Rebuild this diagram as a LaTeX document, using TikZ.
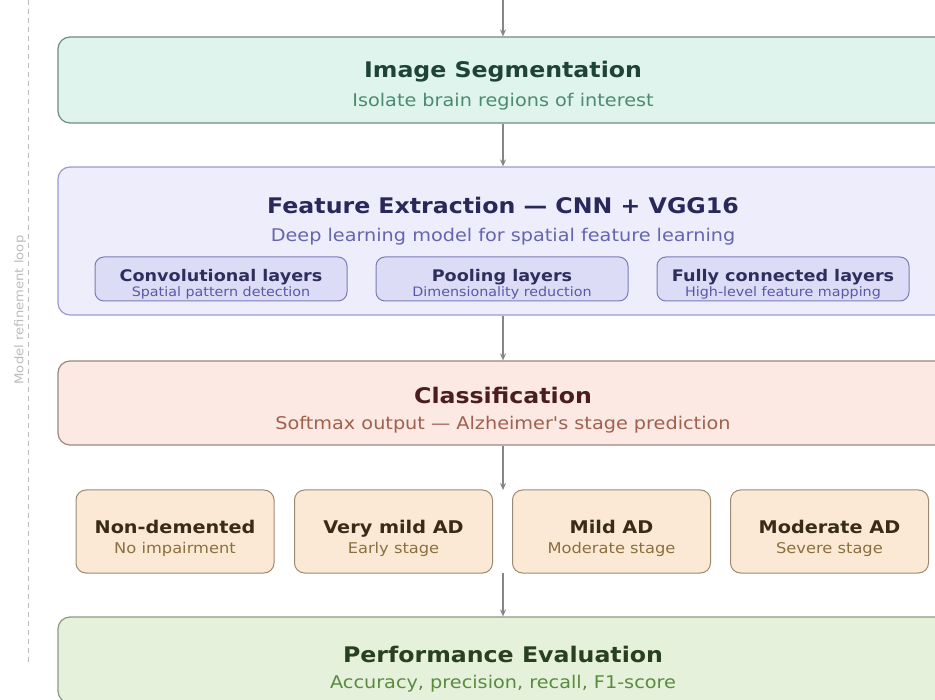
\documentclass[tikz,border=0pt]{standalone}
\usepackage{fontspec}
\setmainfont{DejaVu Sans}[FakeStretch=1.1, Ligatures=TeXOff]
\usetikzlibrary{arrows.meta}

% stage palettes
\definecolor{segfill}{HTML}{DFF4EC}
\definecolor{segline}{HTML}{6F8C82}
\definecolor{segtitle}{HTML}{1D4436}
\definecolor{segsub}{HTML}{4C8A72}
\definecolor{featfill}{HTML}{EDEDFB}
\definecolor{featline}{HTML}{9A9AD2}
\definecolor{feattitle}{HTML}{28285A}
\definecolor{featsub}{HTML}{6565B0}
\definecolor{layfill}{HTML}{DCDCF6}
\definecolor{layline}{HTML}{7C7CB4}
\definecolor{laytitle}{HTML}{2E2E5E}
\definecolor{laysub}{HTML}{5858A8}
\definecolor{clsfill}{HTML}{FCE9E3}
\definecolor{clsline}{HTML}{9C8680}
\definecolor{clstitle}{HTML}{4A1E1E}
\definecolor{clssub}{HTML}{A0604E}
\definecolor{adfill}{HTML}{FBE9D5}
\definecolor{adline}{HTML}{9C8A72}
\definecolor{adtitle}{HTML}{3A2A18}
\definecolor{adsub}{HTML}{8A7040}
\definecolor{evalfill}{HTML}{E5F1DA}
\definecolor{evalline}{HTML}{8A9A80}
\definecolor{evaltitle}{HTML}{284020}
\definecolor{evalsub}{HTML}{5A8A40}
\definecolor{flow}{HTML}{868686}
\definecolor{loopgray}{HTML}{BCBCBC}

\tikzset{
  stage/.style={rectangle, rounded corners=12pt, line width=1.2pt,
    minimum width=890pt, inner sep=0pt},
  layer/.style={rectangle, rounded corners=9pt, line width=1pt,
    fill=layfill, draw=layline, minimum width=252pt, minimum height=44pt, inner sep=0pt},
  adbox/.style={rectangle, rounded corners=10pt, line width=1pt,
    fill=adfill, draw=adline, minimum width=198pt, minimum height=83pt, inner sep=0pt},
  ttl/.style={anchor=base, inner sep=0pt, font=\fontsize{21.5}{25}\selectfont\bfseries},
  sub/.style={anchor=base, inner sep=0pt, font=\fontsize{17.5}{21}\selectfont},
  lttl/.style={anchor=base, inner sep=0pt, font=\fontsize{16}{19}\selectfont\bfseries, text=laytitle},
  lsub/.style={anchor=base, inner sep=0pt, font=\fontsize{13}{15}\selectfont, text=laysub},
  attl/.style={anchor=base, inner sep=0pt, font=\fontsize{17.5}{21}\selectfont\bfseries, text=adtitle},
  asub/.style={anchor=base, inner sep=0pt, font=\fontsize{14.8}{18}\selectfont, text=adsub},
  flowarrow/.style={draw=flow, line width=1.5pt, -{Stealth[length=7pt,width=6pt]}},
}

\begin{document}
\begin{tikzpicture}[x=1pt, y=-1pt]
\useasboundingbox (0,0) rectangle (935,700);
\clip (0,0) rectangle (935,700);
\fill[white] (0,0) rectangle (935,700);

% refinement loop guide on the left
\draw[loopgray, line width=1pt, dash pattern=on 5pt off 4pt] (28,0) -- (28,665);
\node[rotate=90, text=loopgray, font=\fontsize{12}{14}\selectfont, inner sep=0pt]
  (looplabel) at (20,310) {Model refinement loop};

% main stages
\node[stage, fill=segfill, draw=segline, minimum height=86pt] (seg) at (503,80) {};
\node[stage, fill=featfill, draw=featline, minimum height=148pt] (feat) at (503,241) {};
\node[stage, fill=clsfill, draw=clsline, minimum height=84pt] (cls) at (503,403) {};
\node[stage, fill=evalfill, draw=evalline, minimum height=86pt] (eval) at (503,660) {};

\node[ttl, text=segtitle] (segT) at (503,78) {Image Segmentation};
\node[sub, text=segsub] (segS) at (503,107) {Isolate brain regions of interest};

\node[ttl, text=feattitle] (featT) at (503,214) {Feature Extraction — CNN + VGG16};
\node[sub, text=featsub] (featS) at (503,242) {Deep learning model for spatial feature learning};

% CNN building blocks
\node[layer] (conv) at (221,279) {};
\node[layer] (pool) at (502,279) {};
\node[layer] (fc) at (783,279) {};
\node[lttl] (convT) at (221,282) {Convolutional layers};
\node[lsub] (convS) at (221,297) {Spatial pattern detection};
\node[lttl] (poolT) at (502,282) {Pooling layers};
\node[lsub] (poolS) at (502,297) {Dimensionality reduction};
\node[lttl] (fcT) at (783,282) {Fully connected layers};
\node[lsub] (fcS) at (783,297) {High-level feature mapping};

\node[ttl, text=clstitle] (clsT) at (503,404) {Classification};
\node[sub, text=clssub] (clsS) at (503,430) {Softmax output — Alzheimer's stage prediction};

% predicted stages
\node[adbox] (nd) at (175,531.5) {};
\node[adbox] (vm) at (393.5,531.5) {};
\node[adbox] (md) at (611.5,531.5) {};
\node[adbox] (mo) at (829.5,531.5) {};
\node[attl] (ndT) at (175,533) {Non-demented};
\node[asub] (ndS) at (175,554) {No impairment};
\node[attl] (vmT) at (393.5,533) {Very mild AD};
\node[asub] (vmS) at (393.5,554) {Early stage};
\node[attl] (mdT) at (611.5,533) {Mild AD};
\node[asub] (mdS) at (611.5,554) {Moderate stage};
\node[attl] (moT) at (829.5,533) {Moderate AD};
\node[asub] (moS) at (829.5,554) {Severe stage};

\node[ttl, text=evaltitle] (evalT) at (503,662) {Performance Evaluation};
\node[sub, text=evalsub] (evalS) at (503,688) {Accuracy, precision, recall, F1-score};

% flow connectors
\coordinate (incoming) at (503,0);
\coordinate (rowtop) at (503,490);
\coordinate (rowbot) at (503,573);
\draw[flowarrow] (incoming) -- (seg.north);
\draw[flowarrow] (seg.south) -- (feat.north);
\draw[flowarrow] (feat.south) -- (cls.north);
\draw[flowarrow] (cls.south) -- (rowtop);
\draw[flowarrow] (rowbot) -- (eval.north);
\end{tikzpicture}
\end{document}
